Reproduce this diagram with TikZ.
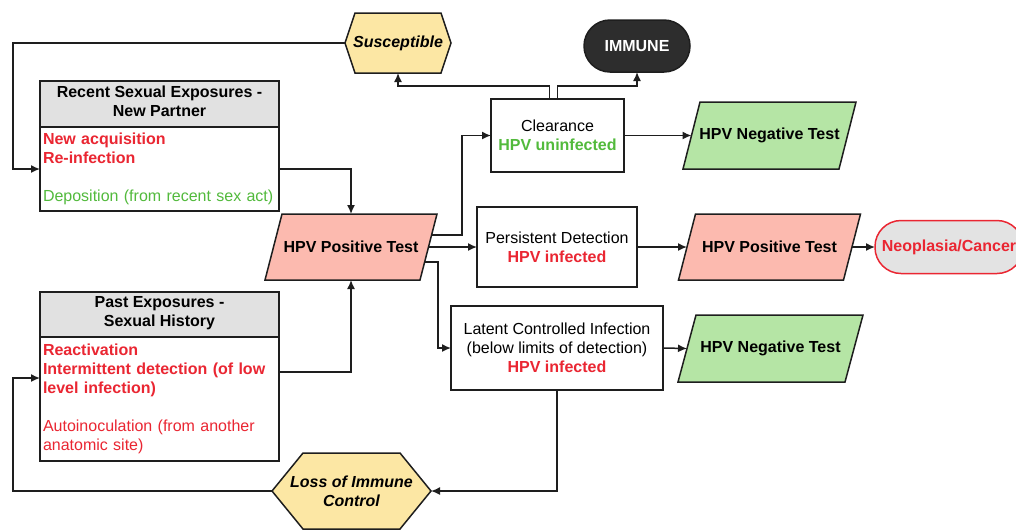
\documentclass[tikz,border=0pt]{standalone}
\usepackage{fontspec}
\setmainfont{Liberation Sans}
\usetikzlibrary{arrows.meta,backgrounds,calc}
\definecolor{posfill}{RGB}{252,186,175}
\definecolor{negfill}{RGB}{181,229,165}
\definecolor{hexfill}{RGB}{252,231,164}
\definecolor{hdrgray}{RGB}{225,225,225}
\definecolor{neofill}{RGB}{227,227,227}
\definecolor{immfill}{RGB}{45,45,45}
\definecolor{redtxt}{RGB}{234,38,50}
\definecolor{greentxt}{RGB}{82,186,60}
\definecolor{linec}{RGB}{30,30,30}
\begin{document}
\begin{tikzpicture}[x=1pt,y=-1pt,
  base/.style={font=\fontsize{16}{19}\selectfont, inner sep=0pt, outer sep=0pt, align=center},
  bold/.style={base, font=\fontsize{16}{19}\selectfont\bfseries},
  bolditalic/.style={base, font=\fontsize{16}{19}\selectfont\bfseries\itshape},
  box/.style={base, draw=linec, line width=1.5pt, fill=white},
  holder/.style={bold},
  conn/.style={draw=linec, line width=1.5pt},
  arr/.style={conn, -{Latex[length=9pt,width=8pt]}}]
\useasboundingbox (0,0) rectangle (1016,531);
\clip (0,0) rectangle (1016,531);
\coordinate (lx) at (13,0);

% shapes holding text
\node[holder, bolditalic, minimum width=106, minimum height=60] (sus) at (398,43) {Susceptible};
\node[bold, draw=linec, line width=1.5pt, fill=immfill, text=white, rounded corners=26pt,
      minimum width=106, minimum height=52] (imm) at (637,46) {IMMUNE};

\node[box, bold, fill=hdrgray, minimum width=239, minimum height=46] (rech) at (159.5,104)
  {Recent Sexual Exposures -\\New Partner\rule[-6pt]{0pt}{0pt}};
\node[box, anchor=north, minimum width=239, minimum height=84, text width=233, align=left] (recb) at (rech.south)
  {\textcolor{redtxt}{\bfseries New acquisition}\\
   \textcolor{redtxt}{\bfseries Re-infection}\\
   ~\\
   \textcolor{greentxt}{Deposition (from recent sex act)}};

\node[box, bold, fill=hdrgray, minimum width=239, minimum height=45] (pasth) at (159.5,314.5)
  {Past Exposures -\\Sexual History\rule[-6pt]{0pt}{0pt}};
\node[box, anchor=north, minimum width=239, minimum height=124, text width=233, align=left] (pastb) at (pasth.south)
  {\textcolor{redtxt}{\bfseries Reactivation}\\
   \textcolor{redtxt}{\bfseries Intermittent detection (of low}\\
   \textcolor{redtxt}{\bfseries level infection)}\\
   ~\\
   \textcolor{redtxt}{Autoinoculation (from another}\\
   \textcolor{redtxt}{anatomic site)}};

\node[holder, minimum width=155, minimum height=66] (pos1) at (351,247) {HPV Positive Test};

\node[box, minimum width=133, minimum height=73] (clear) at (557.5,135.5)
  {Clearance\\\textcolor{greentxt}{\bfseries HPV uninfected}};
\node[box, minimum width=160, minimum height=80] (pers) at (557,247)
  {Persistent Detection\\\textcolor{redtxt}{\bfseries HPV infected}};
\node[box, minimum width=212, minimum height=84] (latent) at (557,348)
  {Latent Controlled Infection\\(below limits of detection)\\\textcolor{redtxt}{\bfseries HPV infected}};

\node[holder, minimum width=156, minimum height=67] (neg1) at (769.5,135.5) {HPV Negative Test};
\node[holder, minimum width=165, minimum height=66] (pos2) at (769.5,247) {HPV Positive Test};
\node[holder, minimum width=167, minimum height=67] (neg2) at (770.5,348.5) {HPV Negative Test};

\node[bold, draw=redtxt, line width=1.5pt, fill=neofill, text=redtxt, rounded corners=26pt,
      minimum width=148, minimum height=53] (neo) at (949,247) {Neoplasia/Cancer};

\node[holder, bolditalic, minimum width=159, minimum height=76] (loss) at (351.5,491) {Loss of Immune\\Control};

% outlines of parallelograms and hexagons
\begin{scope}[on background layer]
  \foreach \n/\c/\s in {pos1/posfill/8.5, pos2/posfill/8.5, neg1/negfill/8.5, neg2/negfill/9}
    \draw[conn, fill=\c] ($(\n.north west)+(\s,0)$) -- ($(\n.north east)+(\s,0)$)
      -- ($(\n.south east)+(-\s,0)$) -- ($(\n.south west)+(-\s,0)$) -- cycle;
  \foreach \n/\t in {sus/10, loss/31}
    \draw[conn, fill=hexfill] (\n.west) -- ($(\n.north west)+(\t,0)$) -- ($(\n.north east)+(-\t,0)$)
      -- (\n.east) -- ($(\n.south east)+(-\t,0)$) -- ($(\n.south west)+(\t,0)$) -- cycle;
\end{scope}

% connectors
\draw[arr] (sus.west) -- (sus.west -| lx) |- (recb.west);
\draw[arr] (recb.east) -| (pos1.north);
\draw[arr] ($(pastb.east)+(0,-27)$) -| (pos1.south);
\draw[arr] (loss.west) -- (loss.west -| lx) |- ($(pastb.west)+(0,-21)$);
\draw[arr] (latent.south) |- (loss.east);
\draw[arr] ($(pos1.east)+(3,-12)$) -| ($(clear.west)+(-29,0)$) -- (clear.west);
\draw[arr] (pos1.east) -- (pers.west);
\draw[arr] ($(pos1.east)+(-4,15)$) -| ($(latent.west)+(-13,0)$) -- (latent.west);
\draw[arr] (clear.east) -- (neg1.west);
\draw[arr] (pers.east) -- (pos2.west);
\draw[arr] (latent.east) -- (neg2.west);
\draw[arr] (pos2.east) -- (neo.west);
\draw[arr] ($(clear.north)+(-8,0)$) -- ++(0,-13) -| (sus.south);
\draw[arr] (clear.north) -- ++(0,-13) -| (imm.south);
\end{tikzpicture}
\end{document}
